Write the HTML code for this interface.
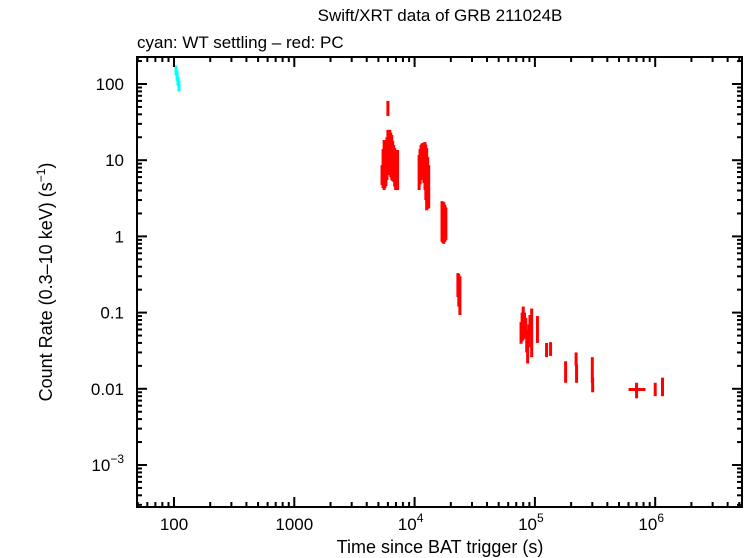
<!DOCTYPE html>
<html><head><meta charset="utf-8"><style>
body{margin:0;background:#fff;}
svg{display:block;font-family:"Liberation Sans",sans-serif;}
</style></head><body>
<svg id="chart" width="746" height="558" viewBox="0 0 746 558">
<text x="440" y="21" font-size="17" text-anchor="middle">Swift/XRT data of GRB 211024B</text>
<text x="137" y="48" font-size="17">cyan: WT settling – red: PC</text>
<text x="440" y="553" font-size="18" text-anchor="middle">Time since BAT trigger (s)</text>
<text transform="translate(52,282) rotate(-90)" font-size="18" text-anchor="middle">Count Rate (0.3–10 keV) (s<tspan dy="-7" font-size="12">−1</tspan><tspan dy="7">)</tspan></text>
<g id="marks"></g><g id="axes"></g>
</svg>
<script>
// WT settling (cyan)
const wtTime=[104,106,108,110];
const wtLo=[130,110,95,80];
const wtHi=[175,150,125,110];
// PC (red)
const pcTime=[5360,5470,5580,5680,5780,5890,6000,6000,6110,6220,6340,6460,6580,6700,6830,6960,7090,7220,10900,11100,11300,11500,11700,11950,12200,12400,12600,12850,13100,16900,17200,17500,17850,18200,22900,23300,23800,76700,78300,80000,82000,84000,85500,87000,89000,91000,94000,105000,125000,135000,180000,220000,222000,300000,302000,1000000,1150000];
const pcLo=[4.7,4.3,4.06,4.3,4.6,5.5,38,6.4,6.4,6.4,6.0,5.5,5.3,5.2,4.5,4.06,4.06,4.06,4.06,4.8,5.5,6.0,6.4,5.0,4.06,3.0,2.2,2.3,2.35,0.85,0.82,0.8,0.85,0.9,0.16,0.12,0.093,0.039,0.042,0.044,0.046,0.047,0.03,0.0215,0.035,0.052,0.026,0.04,0.026,0.027,0.012,0.02,0.012,0.012,0.009,0.008,0.008];
const pcHi=[8.6,14,18.4,18,17.3,20,60,25,25,25,23,21.4,18,15.8,14.5,13.6,13.6,13.6,11.7,14,15.8,16.5,16.8,17,17.3,16,14.4,11,8.6,2.9,2.85,2.8,2.6,2.4,0.33,0.32,0.3,0.075,0.1,0.12,0.1,0.085,0.06,0.039,0.07,0.093,0.113,0.09,0.04,0.041,0.023,0.03,0.021,0.026,0.014,0.012,0.014];
// cross point with x error
const crossTime=[700000];const crossTLo=[600000];const crossTHi=[830000];
const crossRate=[0.0098];const crossLo=[0.0075];const crossHi=[0.012];
const xTicks=[100,1000,10000,100000,1000000];
const xTickLabels=["100","1000","10|4","10|5","10|6"];
const yTicks=[100,10,1,0.1,0.01,0.001];
const yTickLabels=["100","10","1","0.1","0.01","10|−3"];

const L=137,R=742,T=57,B=507;
const X=v=>174+(Math.log10(v)-2)*120.3;
const Y=v=>84-(Math.log10(v)-2)*76.2;
const NS="http://www.w3.org/2000/svg";
const marks=document.getElementById('marks'),axes=document.getElementById('axes');
function mk(tag,attrs,parent){const e=document.createElementNS(NS,tag);for(const k in attrs)e.setAttribute(k,attrs[k]);parent.appendChild(e);return e;}
wtTime.forEach((t,i)=>{const e=mk('line',{x1:X(t),x2:X(t),y1:Y(wtHi[i]),y2:Y(wtLo[i]),stroke:'#00ffff','stroke-width':3},marks);

});
pcTime.forEach((t,i)=>{const e=mk('line',{x1:X(t),x2:X(t),y1:Y(pcHi[i]),y2:Y(pcLo[i]),stroke:'#ff0000','stroke-width':3},marks);

});
crossTime.forEach((t,i)=>{const g=mk('g',{},marks);


mk('line',{x1:X(t),x2:X(t),y1:Y(crossHi[i]),y2:Y(crossLo[i]),stroke:'#ff0000','stroke-width':3},g);
mk('line',{x1:X(crossTLo[i]),x2:X(crossTHi[i]),y1:Y(crossRate[i]),y2:Y(crossRate[i]),stroke:'#ff0000','stroke-width':3},g);});
const fr=mk('rect',{x:L,y:T,width:R-L,height:B-T,fill:'none',stroke:'#000','stroke-width':2},axes);


function label(x,y,s,anchor){const t=mk('text',{x:x,y:y,'font-size':17,'text-anchor':anchor},axes);
const p=s.split('|');t.textContent=p[0];if(p[1]){const sp=mk('tspan',{dy:-8,'font-size':12},t);sp.textContent=p[1];}return t;}
for(let d=1;d<=6;d++)for(let m=1;m<10;m++){const v=m*Math.pow(10,d);const x=X(v);if(x<L||x>R)continue;const len=m==1?10:5;
mk('line',{x1:x,x2:x,y1:B,y2:B-len,stroke:'#000','stroke-width':2},axes);mk('line',{x1:x,x2:x,y1:T,y2:T+len,stroke:'#000','stroke-width':2},axes);}
xTicks.forEach((v,i)=>{const t=label(X(v)+(xTickLabels[i].includes('|')?-4:0),530,xTickLabels[i],'middle');

});
for(let d=-4;d<=2;d++)for(let m=1;m<10;m++){const v=m*Math.pow(10,d);const y=Y(v);if(y<T||y>B)continue;const len=m==1?10:5;
mk('line',{x1:L,x2:L+len,y1:y,y2:y,stroke:'#000','stroke-width':2},axes);mk('line',{x1:R,x2:R-len,y1:y,y2:y,stroke:'#000','stroke-width':2},axes);}
yTicks.forEach((v,i)=>{const t=label(124,Y(v)+6,yTickLabels[i],'end');

});
</script>
</body></html>
